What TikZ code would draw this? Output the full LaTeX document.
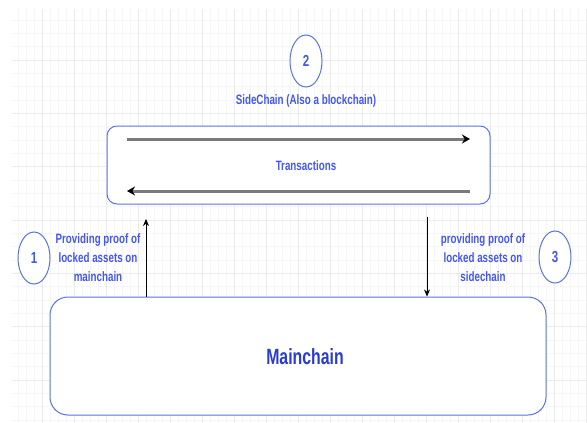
\documentclass[tikz,border=0pt]{standalone}
\usepackage{fontspec}
\setmainfont[FakeStretch=0.72]{Liberation Sans}
\usetikzlibrary{arrows.meta,shapes.geometric}
\definecolor{txtblue}{HTML}{4457EE}
\definecolor{darkblue}{HTML}{2A3CCF}
\definecolor{lineblue}{HTML}{5B72E2}
\definecolor{gridminor}{HTML}{F6F6F6}
\definecolor{gridmajor}{HTML}{EBEBEB}
\definecolor{arrowgray}{HTML}{7A7A7A}
\begin{document}
\begin{tikzpicture}[x=1pt,y=-1pt,
  chainbox/.style={draw=lineblue, fill=white, line width=1pt, inner sep=0pt},
  num/.style={draw=lineblue, fill=white, ellipse, line width=1pt, minimum width=32pt, minimum height=52pt, inner sep=0pt, text=txtblue, font=\bfseries\fontsize{16}{18}\selectfont},
  lbl/.style={text=txtblue, font=\bfseries\fontsize{13.6}{19}\selectfont, align=center, inner sep=0pt},
  txarrow/.style={color=arrowgray, line width=3pt, -{Stealth[length=8pt,width=9pt,black]}},
  proofarrow/.style={draw=black, line width=0.8pt, -{Stealth[length=7pt,width=6pt]}}]
\useasboundingbox (0,0) rectangle (587,423);
\fill[white] (0,0) rectangle (587,423);
% grid
\foreach \k in {1,...,72} \draw[gridminor, line width=0.6pt] (10+8*\k,9) -- (10+8*\k,423);
\foreach \k in {0,...,30} \draw[gridminor, line width=0.6pt] (12,20+13.333*\k) -- (587,20+13.333*\k);
\foreach \k in {1,...,18} \draw[gridmajor, line width=0.8pt] (10+32*\k,9) -- (10+32*\k,423);
\foreach \k in {0,...,6} \draw[gridmajor, line width=0.8pt] (12,60+53.333*\k) -- (587,60+53.333*\k);

% side chain
\node[num] (n2) at (306,61) {2};
\node[lbl] (sidelbl) at (306,101) {SideChain (Also a blockchain)};
\node[chainbox, rounded corners=10pt, minimum width=383pt, minimum height=78pt] (side) at (298.5,165) {};
\node[lbl] (tx) at (306,166) {Transactions};
\coordinate (t1a) at (127,139);
\coordinate (t1b) at (470,139);
\coordinate (t2a) at (470,191);
\coordinate (t2b) at (127,191);
\draw[txarrow] (t1a) -- (t1b);
\draw[txarrow] (t2a) -- (t2b);

% main chain
\node[chainbox, rounded corners=18pt, minimum width=496pt, minimum height=118pt] (main) at (298,356) {};
\node[text=darkblue, font=\bfseries\fontsize{22}{26}\selectfont, inner sep=0pt] (mainlbl) at (305,357) {Mainchain};

% proofs
\coordinate (up) at (146,219);
\draw[proofarrow] (main.north -| up) -- (up);
\coordinate (down) at (427,217);
\draw[proofarrow] (down) -- (main.north -| down);

\node[num] (n1) at (34,258) {1};
\node[lbl] (l1) at (98,258) {Providing proof of\\locked assets on\\mainchain};
\node[num] (n3) at (555,257) {3};
\node[lbl] (l3) at (483,258) {providing proof of\\locked assets on\\sidechain};
\end{tikzpicture}
\end{document}
